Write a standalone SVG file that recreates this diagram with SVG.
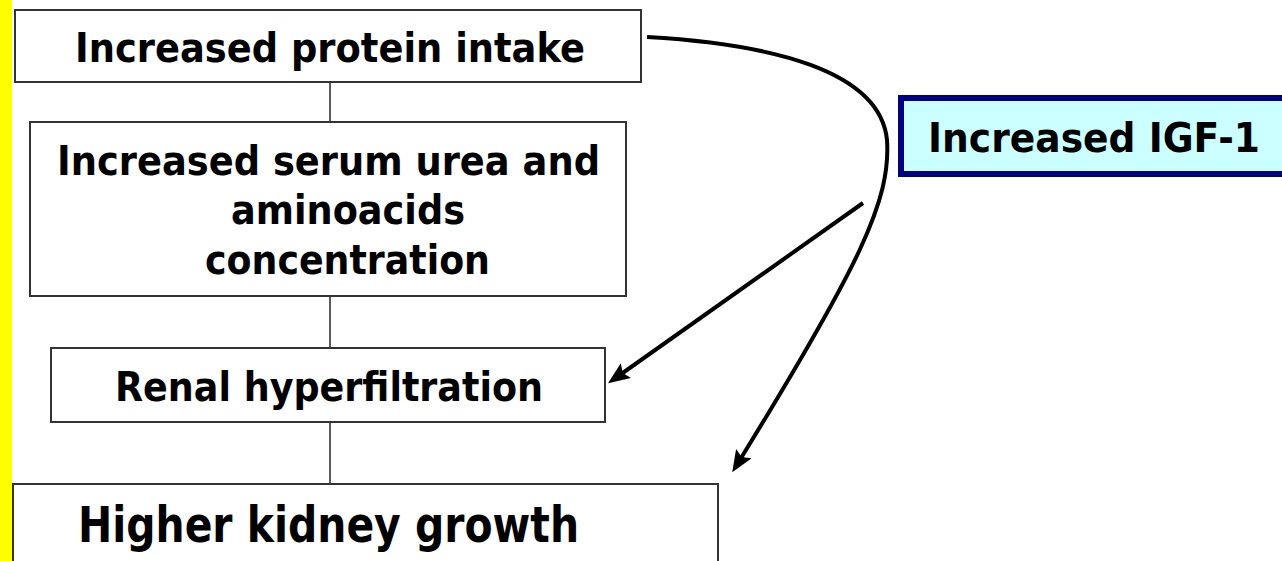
<svg xmlns="http://www.w3.org/2000/svg" width="1282" height="561" viewBox="0 0 1282 561">
<defs>
<style>
.box{fill:#fff;stroke:#333;stroke-width:2}
.t{font-family:"DejaVu Sans","Liberation Sans",sans-serif;font-weight:bold;fill:#000;font-size:41px}
.conn{stroke:#222;stroke-width:1.5;fill:none}
.arr{stroke:#000;stroke-width:4;fill:none;marker-end:url(#ah)}
</style>
<marker id="ah" markerUnits="userSpaceOnUse" markerWidth="24" markerHeight="20" refX="11" refY="9" orient="auto" viewBox="0 0 24 20">
<path d="M0,0 L22,9 L0,18 L4,9 z" fill="#000"/>
</marker>
</defs>
<rect x="0" y="0" width="1282" height="561" fill="#fff"/>
<rect x="0" y="0" width="12" height="561" fill="#ffff00"/>
<g id="connectors">
<line class="conn" x1="330" y1="82" x2="330" y2="122"/>
<line class="conn" x1="330" y1="296" x2="330" y2="348"/>
<line class="conn" x1="330" y1="422" x2="330" y2="484"/>
<path class="arr" d="M647,37 C770,44 880,70 887,140 C891,200 860,265 738,463"/>
<line class="arr" x1="863" y1="203" x2="617" y2="377"/>
</g>
<g id="n-protein">
<rect class="box" x="15" y="10" width="626" height="72"/>
<text class="t" x="75" y="62" textLength="510" lengthAdjust="spacingAndGlyphs">Increased protein intake</text>
</g>
<g id="n-serum">
<rect class="box" x="30" y="122" width="596" height="174"/>
<text class="t" x="57" y="175" textLength="543" lengthAdjust="spacingAndGlyphs">Increased serum urea and</text>
<text class="t" x="231" y="224" textLength="234" lengthAdjust="spacingAndGlyphs">aminoacids</text>
<text class="t" x="205" y="274" textLength="285" lengthAdjust="spacingAndGlyphs">concentration</text>
</g>
<g id="n-renal">
<rect class="box" x="51" y="348" width="554" height="74"/>
<text class="t" x="115" y="401" textLength="428" lengthAdjust="spacingAndGlyphs">Renal hyperfiltration</text>
</g>
<g id="n-growth">
<rect class="box" x="13" y="484" width="705" height="100"/>
<text class="t" x="78" y="542" style="font-size:50px" textLength="501" lengthAdjust="spacingAndGlyphs">Higher kidney growth</text>
</g>
<g id="n-igf">
<rect x="901" y="98" width="390" height="76" fill="#ccffff" stroke="#000080" stroke-width="6"/>
<text class="t" x="928" y="152" textLength="332" lengthAdjust="spacingAndGlyphs">Increased IGF-1</text>
</g>
</svg>
